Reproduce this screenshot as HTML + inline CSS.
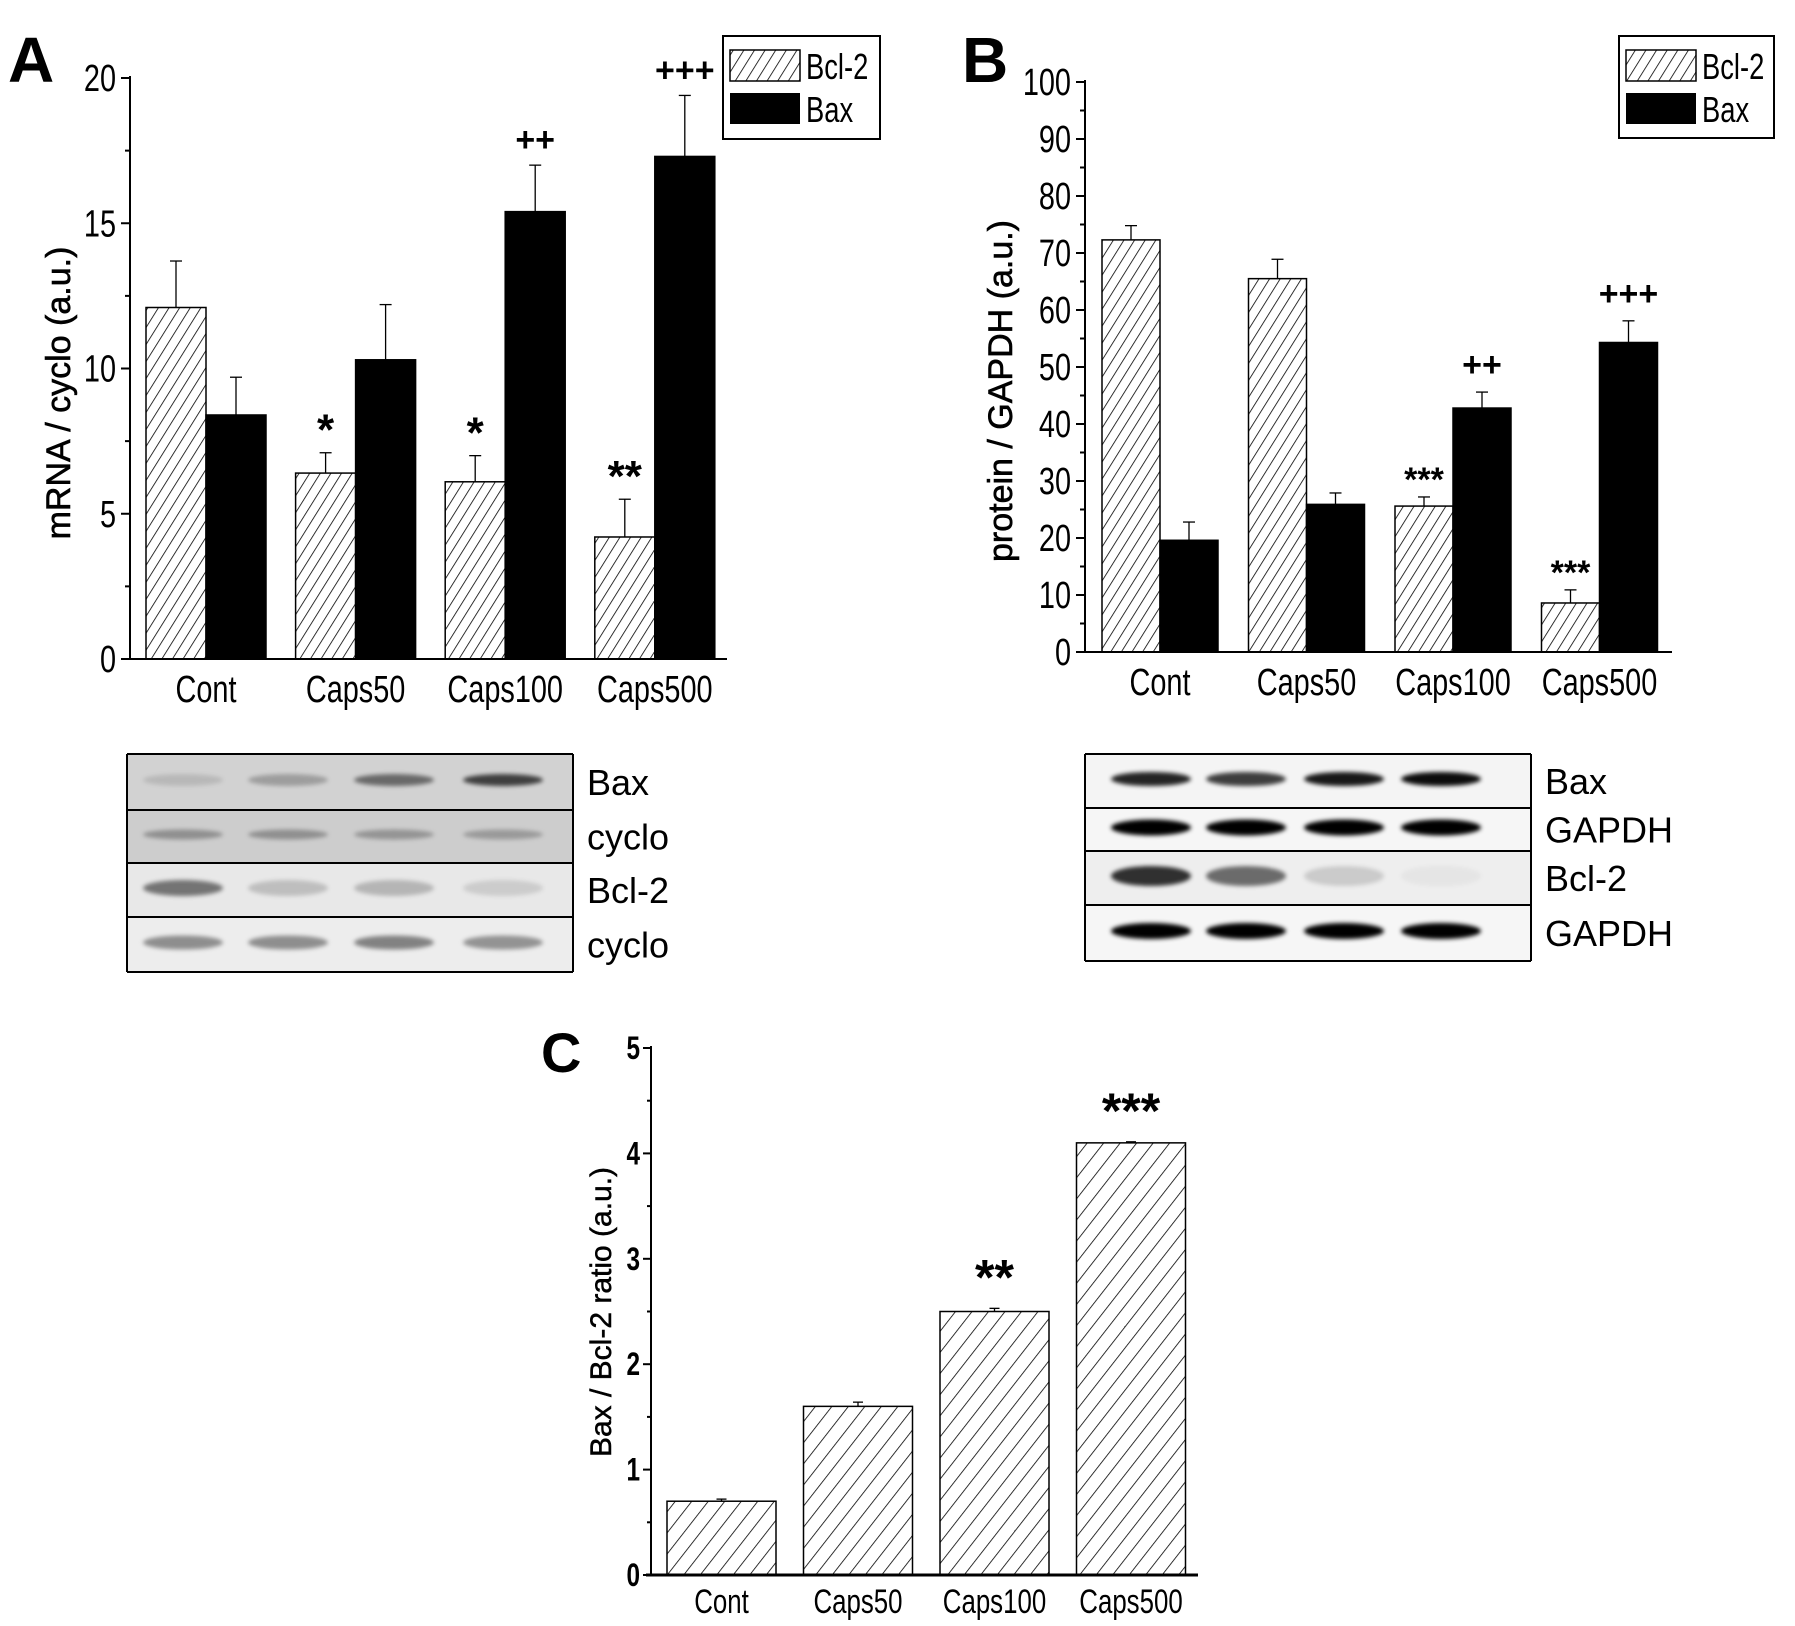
<!DOCTYPE html>
<html><head><meta charset="utf-8">
<style>
html,body{margin:0;padding:0;background:#fff;}
svg{display:block;}
text{font-family:"Liberation Sans",sans-serif;fill:#000;}
</style></head>
<body>
<svg id="fig" width="1795" height="1626" viewBox="0 0 1795 1626" xmlns="http://www.w3.org/2000/svg">
<defs>
<pattern id="hatch" patternUnits="userSpaceOnUse" width="9" height="9" patternTransform="rotate(32)">
<rect width="9" height="9" fill="#fff"/><line x1="0" y1="0" x2="0" y2="9" stroke="#000" stroke-width="1.6"/>
</pattern>
<pattern id="hatchC" patternUnits="userSpaceOnUse" width="13" height="13" patternTransform="rotate(38)">
<rect width="13" height="13" fill="#fff"/><line x1="0" y1="0" x2="0" y2="13" stroke="#000" stroke-width="1.6"/>
</pattern>
<filter id="blur2" x="-50%" y="-100%" width="200%" height="300%"><feGaussianBlur stdDeviation="2"/></filter>
</defs>
<g id="root"></g>
</svg>
<script>
// Panel A data (mRNA / cyclo)
const catsA = ["Cont","Caps50","Caps100","Caps500"];
const bcl2A = [12.1, 6.4, 6.1, 4.2];
const bcl2ErrA = [1.6, 0.7, 0.9, 1.3];
const baxA = [8.4, 10.3, 15.4, 17.3];
const baxErrA = [1.3, 1.9, 1.6, 2.1];
const ticksA = [0,5,10,15,20];
const sigBclA = ["", "*", "*", "**"];
const sigBaxA = ["", "", "++", "+++"];
// Panel B data (protein / GAPDH)
const catsB = ["Cont","Caps50","Caps100","Caps500"];
const bcl2B = [72.3, 65.5, 25.6, 8.6];
const bcl2ErrB = [2.5, 3.4, 1.6, 2.3];
const baxB = [19.6, 25.9, 42.8, 54.3];
const baxErrB = [3.2, 2.0, 2.8, 3.8];
const ticksB = [0,10,20,30,40,50,60,70,80,90,100];
const sigBclB = ["", "", "***", "***"];
const sigBaxB = ["", "", "++", "+++"];
// Panel C data (ratio)
const catsC = ["Cont","Caps50","Caps100","Caps500"];
const ratioC = [0.7, 1.6, 2.5, 4.1];
const ratioErrC = [0.02, 0.04, 0.03, 0.01];
const ticksC = [0,1,2,3,4,5];
const sigC = ["", "", "**", "***"];

const NS="http://www.w3.org/2000/svg";
const root=document.getElementById('root');
function el(tag,attrs,parent,txt){const e=document.createElementNS(NS,tag);for(const k in attrs)e.setAttribute(k,attrs[k]);if(txt!==undefined)e.textContent=txt;(parent||root).appendChild(e);return e;}
// narrow text: horizontally compressed
function ntext(x,y,txt,size,anchor,parent,extra){
  const a={x:0,y:0,'text-anchor':anchor,'font-size':size,transform:`translate(${x},${y}) scale(0.76,1)`};
  if(extra)for(const k in extra)a[k]=extra[k];
  return el('text',a,parent,txt);
}

function groupedPanel(o){
  const g=el('g',{});
  
  
  const y=v=>o.y0-(v-o.ymin)/(o.ymax-o.ymin)*(o.y0-o.ytop);
  const x=i=>o.gx0+i*o.gstep;
  for(let i=0;i<o.cats.length;i++){
    const bx=x(i);
    const yb=y(o.bcl[i]);
    const r1=el('rect',{x:bx,y:yb,width:o.bw,height:o.y0-yb,fill:'url(#hatch)',stroke:'#000','stroke-width':1.5},g);
    
    
    const ye=y(o.bcl[i]+o.bclE[i]);
    el('line',{x1:bx+o.bw/2,y1:yb,x2:bx+o.bw/2,y2:ye,stroke:'#000','stroke-width':1.3},g);
    el('line',{x1:bx+o.bw/2-6,y1:ye,x2:bx+o.bw/2+6,y2:ye,stroke:'#000','stroke-width':1.3},g);
    if(o.sigBcl[i]){const t=el('text',{x:bx+o.bw/2,y:ye-o.sigOff,'text-anchor':'middle','font-size':o.sigBclSize,'font-weight':'bold'},g,o.sigBcl[i]);
      }
    const bx2=bx+o.bw;
    const yx=y(o.bax[i]);
    const r2=el('rect',{x:bx2,y:yx,width:o.bw,height:o.y0-yx,fill:'#000',stroke:'#000','stroke-width':1.5},g);
    
    
    const ye2=y(o.bax[i]+o.baxE[i]);
    el('line',{x1:bx2+o.bw/2,y1:yx,x2:bx2+o.bw/2,y2:ye2,stroke:'#000','stroke-width':1.3},g);
    el('line',{x1:bx2+o.bw/2-6,y1:ye2,x2:bx2+o.bw/2+6,y2:ye2,stroke:'#000','stroke-width':1.3},g);
    if(o.sigBax[i]){const t=el('text',{x:bx2+o.bw/2,y:ye2-o.sigOffPlus,'text-anchor':'middle','font-size':34,'font-weight':'bold'},g,o.sigBax[i]);
      }
    const lab=ntext(bx+o.bw,o.y0+43,o.cats[i],38,'middle',g);
    
  }
  el('line',{x1:o.ax,y1:o.ytop-2,x2:o.ax,y2:o.y0,stroke:'#000','stroke-width':2},g);
  el('line',{x1:o.ax,y1:o.y0,x2:o.xend,y2:o.y0,stroke:'#000','stroke-width':2},g);
  for(let k=0;k<o.ticks.length;k++){
    const v=o.ticks[k];const yy=y(v);
    el('line',{x1:o.ax-9,y1:yy,x2:o.ax,y2:yy,stroke:'#000','stroke-width':2},g);
    const t=ntext(o.ax-14,yy+13,String(v),38,'end',g);
    
    if(k<o.ticks.length-1){const ym=y((v+o.ticks[k+1])/2);el('line',{x1:o.ax-5,y1:ym,x2:o.ax,y2:ym,stroke:'#000','stroke-width':2},g);}
  }
  const yl=el('text',{x:0,y:0,'text-anchor':'middle','font-size':o.ylsize,stroke:'#000','stroke-width':0.6,transform:`translate(${o.ylx},${o.yly}) rotate(-90)`},g,o.ylabel);
  
  const pl=el('text',{x:o.plx,y:o.ply,'font-size':64,'font-weight':'bold'},g,o.letter);
  
  const lg=el('g',{},g);
  el('rect',{x:o.lx,y:o.ly,width:o.lw,height:o.lh,fill:'#fff',stroke:'#000','stroke-width':2},lg);
  el('rect',{x:o.lx+7,y:o.ly+14,width:70,height:31,fill:'url(#hatch)',stroke:'#000','stroke-width':1.5},lg);
  ntext(o.lx+83,o.ly+43,'Bcl-2',36,'start',lg);
  el('rect',{x:o.lx+7,y:o.ly+57,width:70,height:31,fill:'#000'},lg);
  ntext(o.lx+83,o.ly+86,'Bax',36,'start',lg);
}

groupedPanel({name:'panel-a-chart',letter:'A',plx:8,ply:82,cats:catsA,bcl:bcl2A,bclE:bcl2ErrA,bax:baxA,baxE:baxErrA,
  ticks:ticksA,ymin:0,ymax:20,y0:659,ytop:78,ax:130,xend:727,gx0:146,gstep:149.6,bw:60,
  sigBcl:sigBclA,sigBax:sigBaxA,sigOff:8,sigOffPlus:14,sigBclSize:44,
  ylabel:'mRNA / cyclo (a.u.)',ylsize:34,ylx:70,yly:393,lx:723,ly:36,lw:157,lh:103});
groupedPanel({name:'panel-b-chart',letter:'B',plx:962,ply:82,cats:catsB,bcl:bcl2B,bclE:bcl2ErrB,bax:baxB,baxE:baxErrB,
  ticks:ticksB,ymin:0,ymax:100,y0:652,ytop:82,ax:1085,xend:1672,gx0:1102,gstep:146.5,bw:58,
  sigBcl:sigBclB,sigBax:sigBaxB,sigOff:6,sigOffPlus:16,sigBclSize:34,
  ylabel:'protein / GAPDH (a.u.)',ylsize:34,ylx:1012,yly:391,lx:1619,ly:36,lw:155,lh:102});

(function(){
  const g=el('g',{});
  
  const y0=1575,ytop=1048,ymax=5,ax=651,xend=1198,gx0=667,gstep=136.5,bw=109;
  const y=v=>y0-v/ymax*(y0-ytop);
  for(let i=0;i<catsC.length;i++){
    const bx=gx0+i*gstep;const yb=y(ratioC[i]);
    const r=el('rect',{x:bx,y:yb,width:bw,height:y0-yb,fill:'url(#hatchC)',stroke:'#000','stroke-width':1.5},g);
    
    const ye=y(ratioC[i]+ratioErrC[i]);
    el('line',{x1:bx+bw/2,y1:yb,x2:bx+bw/2,y2:ye,stroke:'#000','stroke-width':1.3},g);
    el('line',{x1:bx+bw/2-5,y1:ye,x2:bx+bw/2+5,y2:ye,stroke:'#000','stroke-width':1.3},g);
    if(sigC[i]){const t=el('text',{x:bx+bw/2,y:ye-14,'text-anchor':'middle','font-size':50,'font-weight':'bold'},g,sigC[i]);
      }
    const lab=ntext(bx+bw/2,y0+38,catsC[i],34,'middle',g);
    
  }
  el('line',{x1:ax,y1:ytop-2,x2:ax,y2:y0,stroke:'#000','stroke-width':2},g);
  el('line',{x1:ax-5,y1:y0,x2:xend,y2:y0,stroke:'#000','stroke-width':3},g);
  for(let k=0;k<ticksC.length;k++){
    const v=ticksC[k];const yy=y(v);
    el('line',{x1:ax-8,y1:yy,x2:ax,y2:yy,stroke:'#000','stroke-width':2},g);
    const t=ntext(ax-11,yy+11,String(v),32,'end',g,{'font-weight':'bold'});
    
    if(k<ticksC.length-1){const ym=y(v+0.5);el('line',{x1:ax-4,y1:ym,x2:ax,y2:ym,stroke:'#000','stroke-width':2},g);}
  }
  const yl=el('text',{x:0,y:0,'text-anchor':'middle','font-size':30,stroke:'#000','stroke-width':0.5,transform:'translate(611,1312) rotate(-90)'},g,'Bax / Bcl-2 ratio (a.u.)');
  
  const pl=el('text',{x:541,y:1072,'font-size':56,'font-weight':'bold'},g,'C');
  
})();

// Blots (illustrative images)
const blotAIntensity = [[0.12,0.25,0.5,0.7],[0.3,0.3,0.28,0.25],[0.5,0.18,0.22,0.12],[0.4,0.4,0.45,0.38]];
const blotBIntensity = [[0.85,0.75,0.9,0.95],[1,1,1,1],[0.8,0.55,0.15,0.04],[1,1,1,1]];
function blot(name,x0,x1,rows,bgs,lanes,ints,labels,bandH,blurId){
  const g=el('g',{});
  
  for(let r=0;r<rows.length-1;r++){
    const ya=rows[r],yb=rows[r+1];
    el('rect',{x:x0,y:ya,width:x1-x0,height:yb-ya,fill:bgs[r]},g);
    for(let l=0;l<lanes.length;l++){
      const a=ints[r][l];
      el('ellipse',{cx:lanes[l],cy:(ya+yb)/2-2,rx:40,ry:bandH[r],fill:'#000','fill-opacity':a,filter:blurId},g);
    }
    const t=el('text',{x:x1+14,y:(ya+yb)/2+13,'font-size':36},g,labels[r]);
    
  }
  for(let r=0;r<rows.length;r++) el('line',{x1:x0,y1:rows[r],x2:x1,y2:rows[r],stroke:'#000','stroke-width':2},g);
  el('line',{x1:x0,y1:rows[0],x2:x0,y2:rows[rows.length-1],stroke:'#000','stroke-width':2},g);
  el('line',{x1:x1,y1:rows[0],x2:x1,y2:rows[rows.length-1],stroke:'#000','stroke-width':2},g);
}
blot('blot-panel-a',127,573,[754,810,863,917,972],['#d2d2d2','#cdcdcd','#e8e8e8','#ededed'],[183,288,394,503],blotAIntensity,['Bax','cyclo','Bcl-2','cyclo'],[6,5,8,7],'url(#blur2)');
blot('blot-panel-b',1085,1531,[754,808,851,905,961],['#f4f4f4','#f6f6f6','#eeeeee','#f6f6f6'],[1151,1246,1344,1441],blotBIntensity,['Bax','GAPDH','Bcl-2','GAPDH'],[7,8,10,8],'url(#blur2)');
</script>
</body></html>
